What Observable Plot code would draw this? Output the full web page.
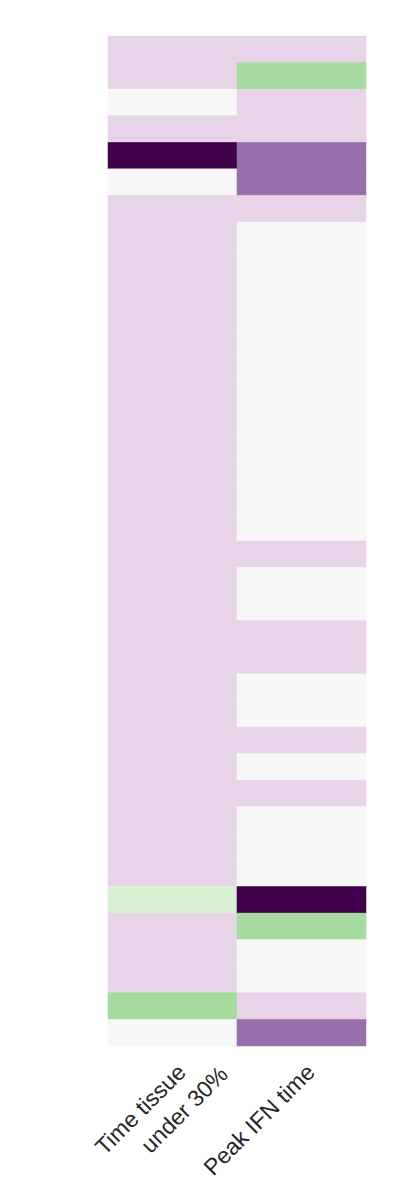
<!DOCTYPE html>
<html>
<head>
<meta charset="utf-8">
<script src="https://cdn.jsdelivr.net/npm/d3@7"></script>
<script src="https://cdn.jsdelivr.net/npm/@observablehq/plot@0.6"></script>
<style>
  body { margin: 0; background: #fff; }
</style>
</head>
<body>
<div id="chart"></div>
<script>
// Columns (x categories)
const columns = ["Time tissue under 30%", "Peak IFN time"];
// Tick label lines per column
const tickLines1 = ["Time tissue", "Peak IFN time"];
const tickLines2 = ["under 30%", ""];
// Values per row (38 rows, top to bottom), discrete levels -5..5
const timeTissueUnder30 = [-1,-1,0,-1,-5,0,-1,-1,-1,-1,-1,-1,-1,-1,-1,-1,-1,-1,-1,-1,-1,-1,-1,-1,-1,-1,-1,-1,-1,-1,-1,-1,1,-1,-1,-1,2,0];
const peakIFNTime     = [-1,2,-1,-1,-3,-3,-1,0,0,0,0,0,0,0,0,0,0,0,0,-1,0,0,-1,-1,0,0,-1,0,-1,0,0,0,-5,2,0,0,-1,-3];
const levels = d3.range(-5, 6);

const series = [timeTissueUnder30, peakIFNTime];
const rows = d3.range(timeTissueUnder30.length);
const table = [];
columns.forEach((c, j) => rows.forEach(i => table.push({col: c, row: i, value: series[j][i]})));

const labels1 = columns.map((c, j) => ({col: c, text: tickLines1[j]}));
const labels2 = columns.map((c, j) => ({col: c, text: tickLines2[j]})).filter(d => d.text);

const chart = Plot.plot({
  width: 404,
  height: 1180,
  marginTop: 36,
  marginBottom: 134,
  marginLeft: 108,
  marginRight: 38,
  style: {fontFamily: "Liberation Sans, Arial, sans-serif", background: "#fff"},
  x: {type: "band", domain: columns, padding: 0, round: false, axis: null},
  y: {type: "band", domain: rows, padding: 0, round: false, axis: null},
  color: {type: "ordinal", domain: levels, range: d3.schemePRGn[11]},
  marks: [
    Plot.cell(table, {x: "col", y: "row", fill: "value", stroke: "value", strokeWidth: 0.5, inset: 0}),
    Plot.text(labels1, {x: "col", frameAnchor: "bottom", text: "text", rotate: -45,
      textAnchor: "end", lineAnchor: "middle", fontSize: 23, fill: "#262626", dx: 9, dy: 22}),
    Plot.text(labels2, {x: "col", frameAnchor: "bottom", text: "text", rotate: -45,
      textAnchor: "end", lineAnchor: "middle", fontSize: 23, fill: "#262626", dx: 51, dy: 24})
  ]
});
document.getElementById("chart").appendChild(chart);
</script>
</body>
</html>
